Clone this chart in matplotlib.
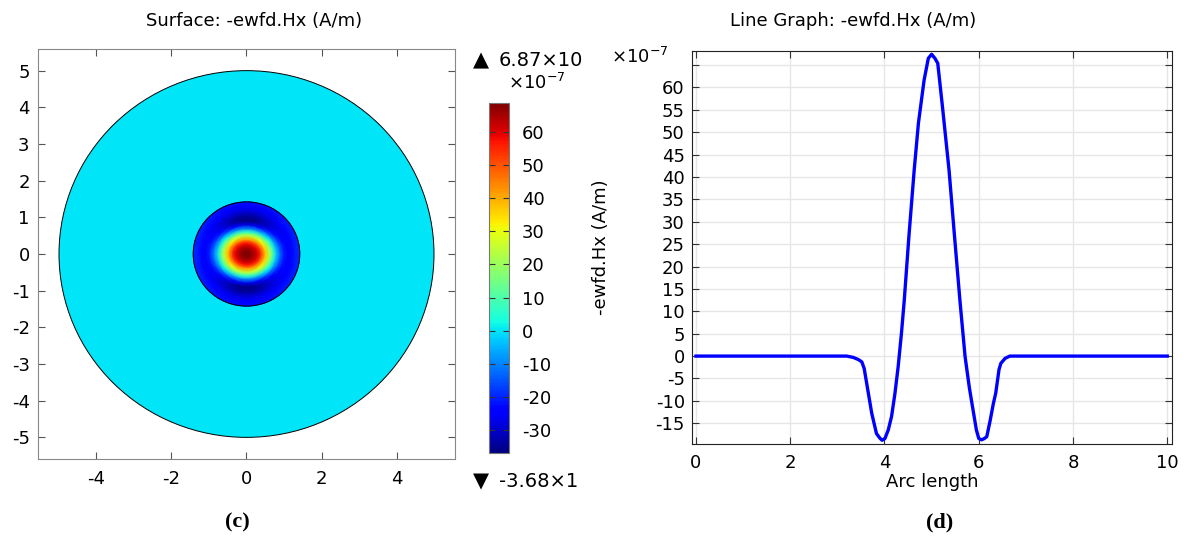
import matplotlib.pyplot as plt
import numpy as np
from matplotlib.patches import Circle
from matplotlib.colors import Normalize

r_nodes = [0.0, 0.1, 0.2, 0.3, 0.4, 0.5, 0.6, 0.7, 0.8, 0.9, 1.0, 1.1, 1.2, 1.3, 1.42]
hx_along_x = [68.7, 67.5, 64.0, 59.0, 50.0, 37.0, 24.0, 9.0, -4.0, -14.0, -21.0, -24.0, -23.0, -21.0, -19.0]
hx_along_y = [68.7, 67.0, 62.5, 56.0, 40.0, 24.0, 6.0, -12.0, -28.0, -36.0, -35.0, -31.0, -27.0, -24.0, -22.0]
core_radius = 1.42
clad_radius = 5.0
cbar_min, cbar_max = -36.8, 68.7
cbar_ticks = [-30, -20, -10, 0, 10, 20, 30, 40, 50, 60]

# line graph through the centre
arc_len = [0.0, 3.20, 3.34, 3.45, 3.52, 3.57, 3.65, 3.73, 3.83, 3.90, 3.95, 4.01, 4.08, 4.15,
           4.22, 4.29, 4.36, 4.42, 4.52, 4.63, 4.72, 4.84, 4.93, 5.00, 5.07, 5.13, 5.23, 5.30,
           5.37, 5.48, 5.60, 5.71, 5.80, 5.88, 5.95, 6.00, 6.06, 6.12, 6.17, 6.24, 6.31, 6.36,
           6.43, 6.47, 6.56, 6.66, 10.0]
hx_line = [0.0, 0.0, -0.3, -0.8, -1.3, -2.8, -7.8, -12.8, -17.3, -18.3, -18.8, -18.4, -16.5, -13.5,
           -8.5, -2.4, 5.1, 12.5, 27.0, 41.5, 52.0, 61.6, 66.5, 67.4, 66.5, 65.4, 55.7, 48.6,
           41.5, 27.5, 12.5, -0.1, -7.0, -12.1, -16.5, -18.4, -18.7, -18.4, -18.0, -14.5, -10.6, -8.3,
           -3.0, -1.6, -0.5, 0.0, 0.0]
line_yticks = [-15, -10, -5, 0, 5, 10, 15, 20, 25, 30, 35, 40, 45, 50, 55, 60]

plt.rcParams['font.family'] = 'DejaVu Sans'
plt.rcParams['axes.unicode_minus'] = False
W, H = 1190, 545
fig = plt.figure(figsize=(W / 100, H / 100), dpi=100)

def box(x0, y0, x1, y1):
    # pixel box (top-left origin) -> figure fraction
    return [x0 / W, 1 - y1 / H, (x1 - x0) / W, (y1 - y0) / H]

cmap = plt.get_cmap('jet')
norm = Normalize(cbar_min, cbar_max)

# ---- left: surface ----
ax = fig.add_axes(box(38, 49, 455, 459))
ax.add_patch(Circle((0, 0), clad_radius, fc=cmap(norm(0)), ec='black', lw=0.7, zorder=1))
theta = np.linspace(0, 2 * np.pi, 145)
R, T = np.meshgrid(r_nodes, theta)
C = np.outer(np.cos(theta) ** 2, hx_along_x) + np.outer(np.sin(theta) ** 2, hx_along_y)
mesh = ax.pcolormesh(R * np.cos(T), R * np.sin(T), C, cmap=cmap, norm=norm,
                     shading='gouraud', zorder=2)
ax.add_patch(Circle((0, 0), core_radius, fill=False, ec='black', lw=0.7, zorder=3))
ax.set_xlim(-5.56, 5.56)
ax.set_ylim(-5.59, 5.59)
ax.set_xticks([-4, -2, 0, 2, 4])
ax.set_yticks([-5, -4, -3, -2, -1, 0, 1, 2, 3, 4, 5])
ax.tick_params(direction='in', top=True, right=True, length=5, color='#555555',
               labelsize=13, pad=6)
ax.tick_params(axis='x', pad=8)
for s in ax.spines.values():
    s.set_color('#888888')
fig.text(254 / W, 1 - 20.7 / H, 'Surface: -ewfd.Hx (A/m)', ha='center', va='center', fontsize=13)

cax = fig.add_axes(box(489.3, 102.7, 509.3, 453))
cb = fig.colorbar(mesh, cax=cax, ticks=cbar_ticks)
cb.outline.set_edgecolor('#777777')
cax.tick_params(direction='in', left=True, right=True, length=4, color='#333333',
                labelsize=13, pad=9)
fig.text(481 / W, 1 - 60 / H, '\u25b2', ha='center', va='center', fontsize=15)
fig.text(499 / W, 1 - 60 / H, '6.87\u00d710', ha='left', va='center', fontsize=14)
fig.text(536.7 / W, 1 - 83 / H, r'$\times10^{-7}$', ha='center', va='center', fontsize=13)
fig.text(481 / W, 1 - 481.7 / H, '\u25bc', ha='center', va='center', fontsize=15)
fig.text(499 / W, 1 - 481.7 / H, '-3.68\u00d71', ha='left', va='center', fontsize=14)

fig.text(237 / W, 1 - 522 / H, '(c)', ha='center', va='center', fontsize=16,
         family='Liberation Serif', weight='bold')

# ---- right: line graph ----
ax2 = fig.add_axes(box(691.7, 50.7, 1172, 444.3))
ax2.plot(arc_len, hx_line, color='#0000ff', lw=2.4)
ax2.set_xlim(-0.09, 10.10)
ax2.set_ylim(-19.7, 68.2)
ax2.set_xticks([0, 2, 4, 6, 8, 10])
ax2.set_yticks(line_yticks + [65])
ax2.set_yticklabels([str(v) for v in line_yticks] + [''])
ax2.grid(color='#e6e6e6', lw=1)
ax2.set_axisbelow(True)
ax2.tick_params(direction='in', top=True, right=True, length=5, color='#333333',
                labelsize=13, pad=5)
ax2.tick_params(axis='x', pad=7)
for s in ax2.spines.values():
    s.set_color('#222222')
ax2.set_xlabel('Arc length', fontsize=13, labelpad=1)
fig.text(601 / W, 1 - 247.5 / H, '-ewfd.Hx (A/m)', rotation=90, ha='center', va='center',
         fontsize=13)
fig.text(640 / W, 1 - 56.7 / H, r'$\times10^{-7}$', ha='center', va='center', fontsize=13)
fig.text(853 / W, 1 - 20.7 / H, 'Line Graph: -ewfd.Hx (A/m)', ha='center', va='center',
         fontsize=13)

fig.text(940 / W, 1 - 522 / H, '(d)', ha='center', va='center', fontsize=16,
         family='Liberation Serif', weight='bold')

fig.savefig('out.png', dpi=100)
